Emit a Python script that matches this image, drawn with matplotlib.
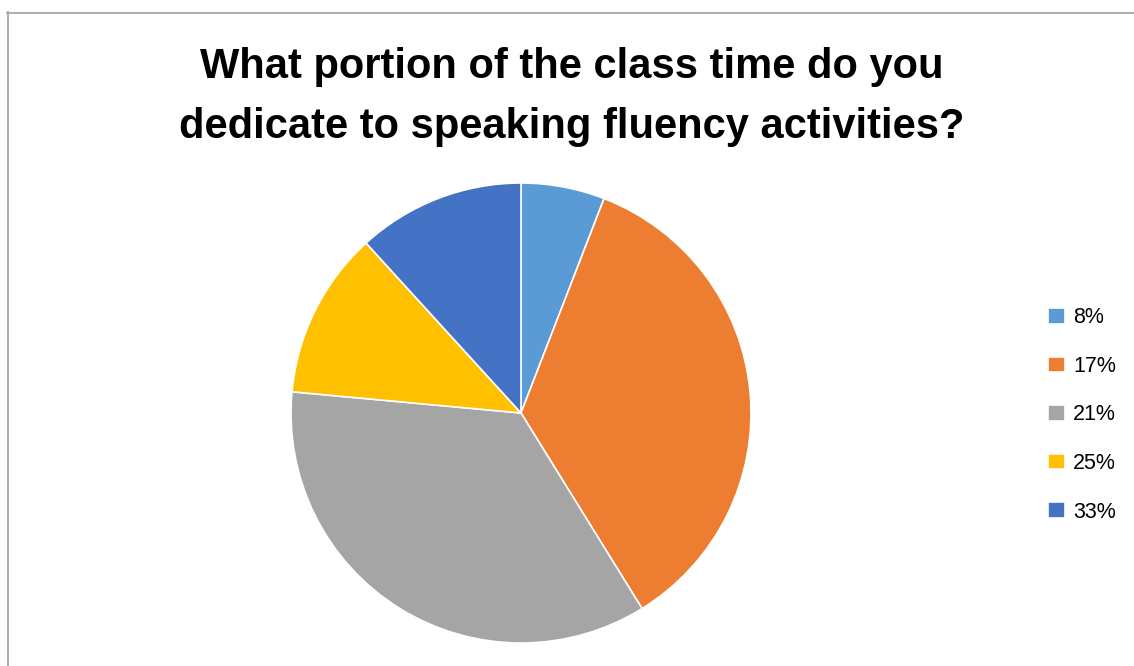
import matplotlib
matplotlib.use("Agg")
import matplotlib.pyplot as plt
from matplotlib.lines import Line2D

# donnees
etiquettes = ["8%", "17%", "21%", "25%", "33%"]
valeurs = [1, 6, 6, 2, 2]
couleurs = ["#5B9BD5", "#ED7D31", "#A5A5A5", "#FFC000", "#4472C4"]
titre = "What portion of the class time do you\ndedicate to speaking fluency activities?"

W, H = 1134, 666
fig = plt.figure(figsize=(W / 100, H / 100), dpi=100)

# cadre gris (gauche + haut)
fig.add_artist(Line2D([7.5 / W, 7.5 / W], [0, 1 - 12 / H], color="#A6A6A6", lw=1.3))
fig.add_artist(Line2D([7 / W, 1], [1 - 12.5 / H, 1 - 12.5 / H], color="#A6A6A6", lw=1.3))

cx, cy, r = 521, 413, 230
ax = fig.add_axes([(cx - r) / W, (H - cy - r) / H, 2 * r / W, 2 * r / H])
wedges, _ = ax.pie(valeurs, colors=couleurs, startangle=90, counterclock=False,
                   wedgeprops=dict(edgecolor="white", linewidth=1.2))
ax.set_xlim(-1, 1)
ax.set_ylim(-1, 1)
ax.set_aspect("equal")

fig.text(572 / W, 1 - 97 / H, titre, ha="center", va="center", fontsize=30,
         fontweight="bold", family="Liberation Sans", linespacing=1.65)

leg = fig.legend(wedges, etiquettes, loc="center left", bbox_to_anchor=(1029 / W, 1 - 415 / H),
                 frameon=False, labelspacing=1.28, handlelength=0.75,
                 handleheight=0.75, handletextpad=0.4, prop={"family": "Liberation Sans", "size": 15.5})

fig.savefig("out.png", dpi=100)
